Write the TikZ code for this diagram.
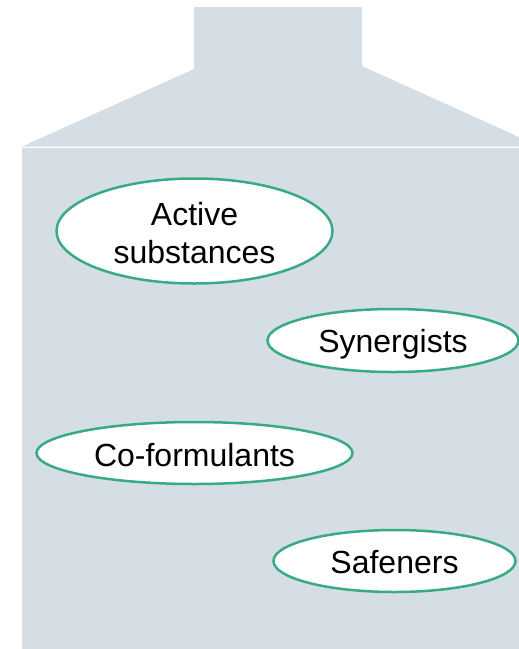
\documentclass[tikz,border=0pt]{standalone}
\usepackage{fontspec}
\setmainfont{Liberation Sans}
\usetikzlibrary{shapes.geometric}

\definecolor{bottlegray}{RGB}{214,222,229}
\definecolor{ringgreen}{RGB}{56,170,134}

\newcommand{\lowtext}[2]{\raisebox{-#1}[\height][\depth]{#2}}

\tikzset{
	ingr/.style={ellipse, draw=ringgreen, line width=2.5pt, fill=white, inner sep=0pt,
		align=center, font=\fontsize{32}{37}\selectfont},
}

\begin{document}
\begin{tikzpicture}[x=1pt,y=-1pt]
	  \useasboundingbox (0,0) rectangle (519,649);   % page size

	  \fill[bottlegray] (22,146.5) -- (194,69) -- (194,7) -- (362,7) -- (362,66) -- (519,137) -- (519,146.5) -- cycle;   % neck and shoulders
	  \fill[bottlegray] (22,147.5) rectangle (519,649);   % body

	  \node[ingr, minimum width=276pt, minimum height=105pt] (act) at (194.5,231) {\lowtext{2pt}{Active}\\\lowtext{3pt}{substances}};
	  \node[ingr, minimum width=251pt, minimum height=63pt] (syn) at (393,340.5) {\lowtext{4pt}{Synergists}};
	  \node[ingr, minimum width=316pt, minimum height=62pt] (cof) at (194.5,453) {\lowtext{2pt}{Co-formulants}};
	  \node[ingr, minimum width=242pt, minimum height=62pt] (saf) at (394.5,561) {\lowtext{1.5pt}{Safeners}};

	\end{tikzpicture}
\end{document}
